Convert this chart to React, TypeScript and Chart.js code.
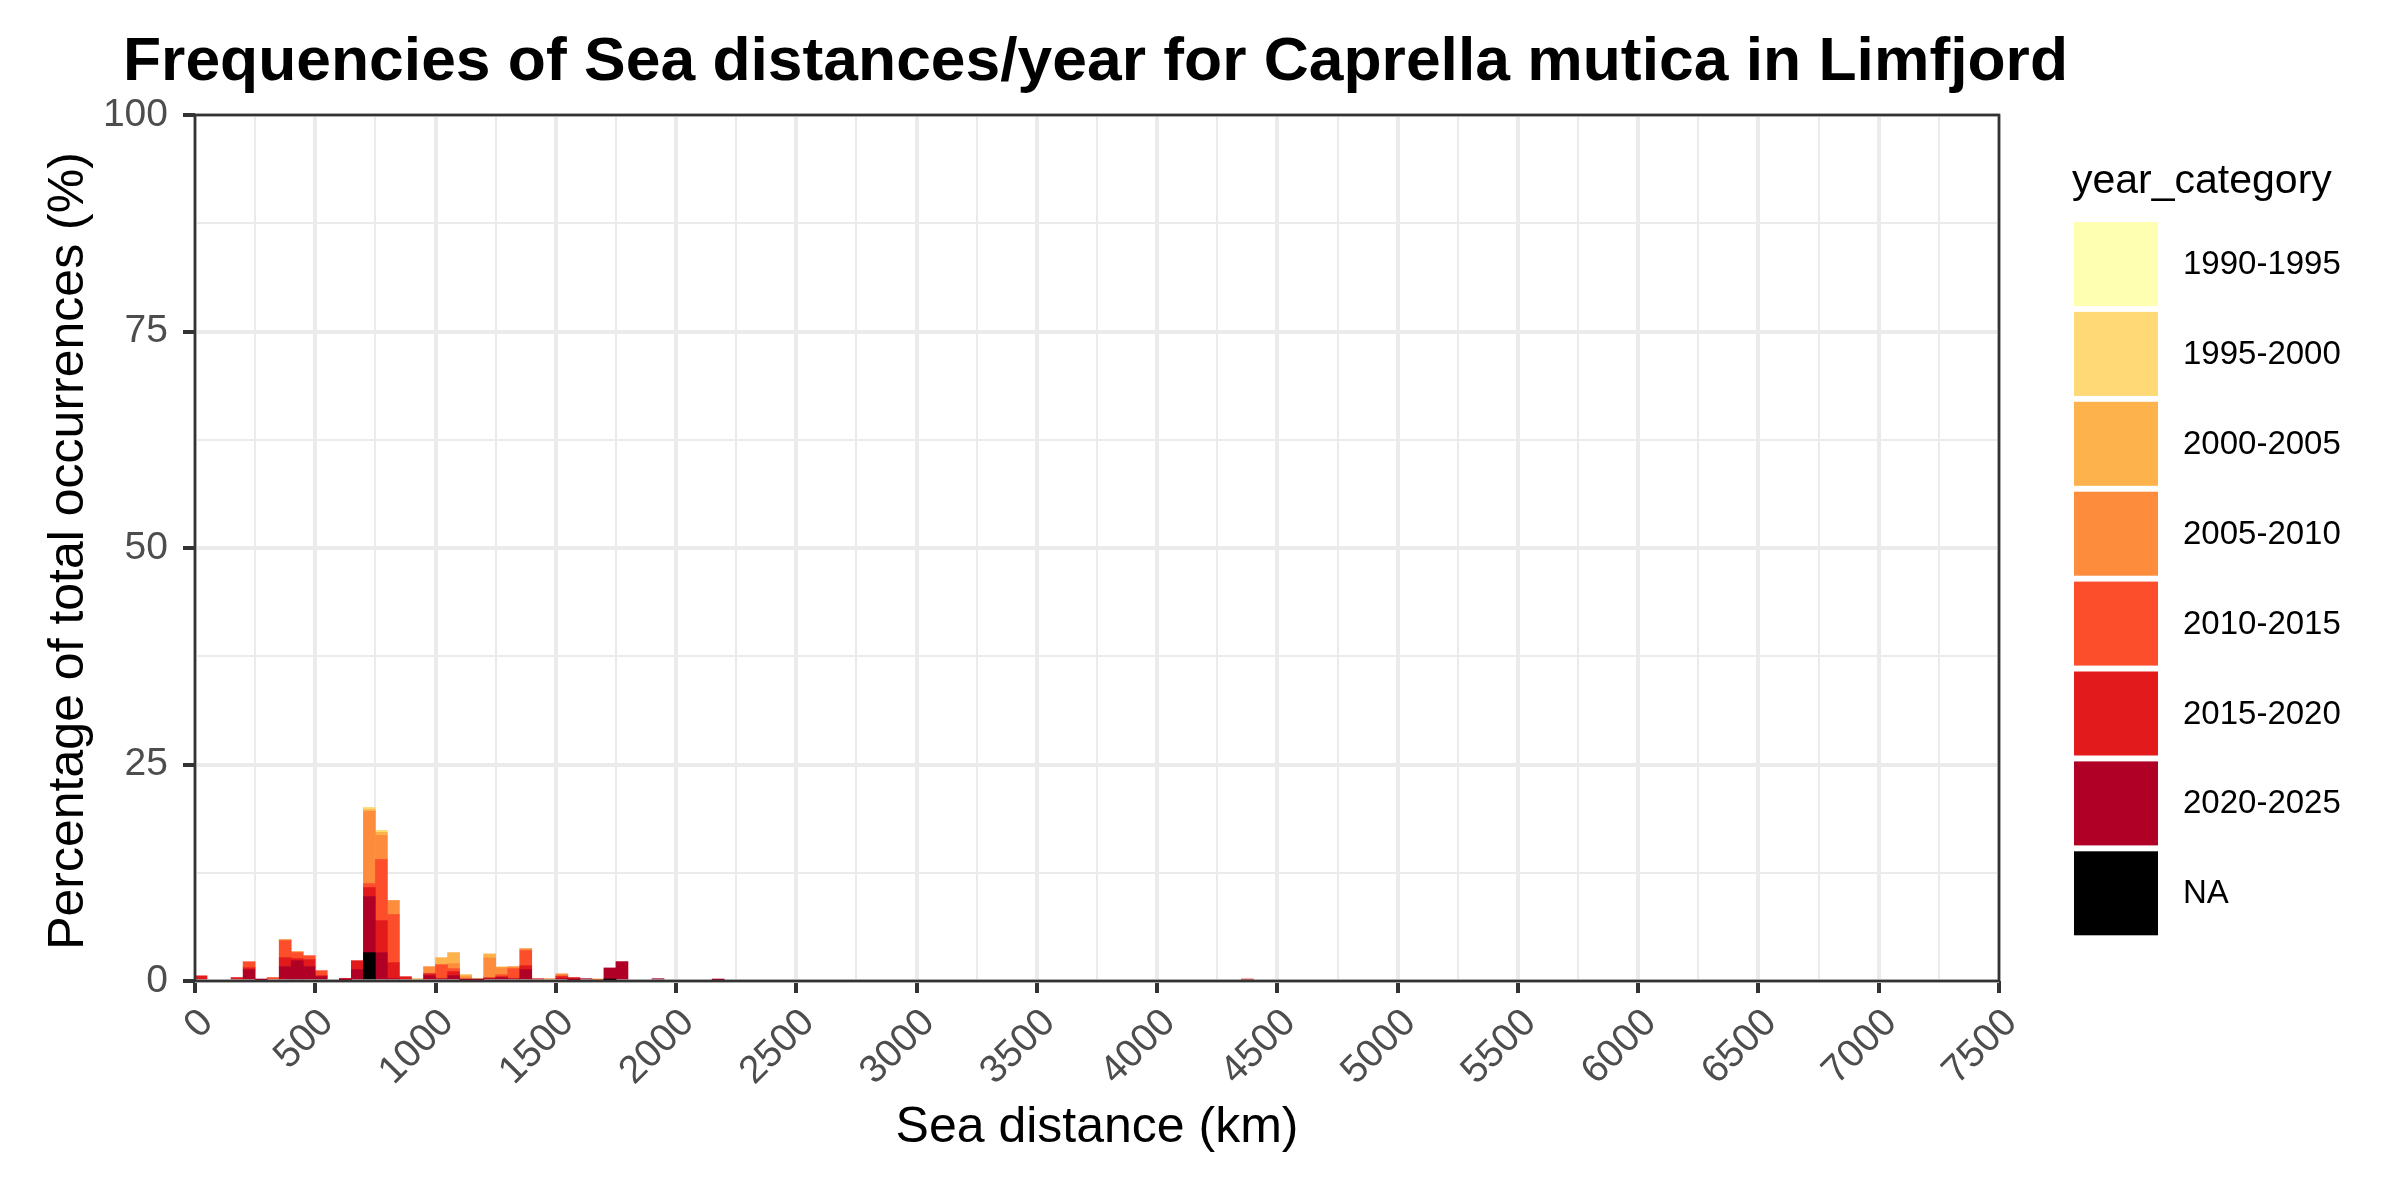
import React, { useEffect, useRef } from 'react';
import { Chart, registerables } from 'chart.js';

Chart.register(...registerables);

const TITLE = 'Frequencies of Sea distances/year for Caprella mutica in Limfjord';
const X_TITLE = 'Sea distance (km)';
const Y_TITLE = 'Percentage of total occurrences (%)';
const LEGEND_TITLE = 'year_category';

const FONT = '"Liberation Sans", Arial, Helvetica, sans-serif';

const BIN_WIDTH = 50;
const X_MIN = 0;
const X_MAX = 7500;
const X_STEP = 250;
const X_LABEL_STEP = 500;
const Y_MIN = 0;
const Y_MAX = 100;
const Y_STEP = 12.5;
const Y_LABEL_STEP = 25;

// left edge (km) of each non-empty histogram bin
const binStarts = [0, 150, 200, 250, 300, 350, 400, 450, 500, 600, 650, 700, 750, 800, 850, 900, 950, 1000, 1050, 1100, 1150, 1200, 1250, 1300, 1350, 1400, 1450, 1500, 1550, 1600, 1650, 1700, 1750, 1900, 2150, 4350];

// percentage of total occurrences per bin and year category
const valuesNA = [0, 0, 0, 0, 0, 0, 0, 0, 0, 0, 0, 3.28, 0, 0, 0, 0, 0, 0, 0, 0, 0, 0, 0, 0, 0, 0, 0, 0, 0, 0, 0, 0.08, 0, 0, 0, 0];
const values2020 = [0, 0, 1.3, 0.1, 0, 1.66, 2.35, 1.66, 0.5, 0.05, 1.31, 6.48, 3.28, 0.27, 0, 0, 0.62, 0.27, 0.62, 0.15, 0.1, 0.27, 0.4, 0.27, 1.31, 0, 0, 0.27, 0.15, 0.27, 0, 1.43, 2.24, 0.27, 0.05, 0];
const values2015 = [0.6, 0.4, 0.23, 0, 0, 1.04, 0.23, 0.81, 0.12, 0.25, 1.04, 1.04, 3.7, 1.85, 0.5, 0, 0.23, 0, 0.46, 0, 0, 0.1, 0.1, 0, 0.46, 0.27, 0, 0.23, 0.25, 0, 0, 0, 0, 0, 0, 0.2];
const values2010 = [0, 0, 0.7, 0, 0.4, 1.97, 0.7, 0.46, 0.58, 0, 0, 0.46, 7.06, 5.56, 0, 0, 0, 1.62, 0.35, 0, 0, 0, 0.23, 1.16, 1.74, 0, 0, 0.1, 0, 0, 0, 0, 0, 0, 0, 0];
const values2005 = [0, 0, 0, 0, 0, 0.12, 0.12, 0, 0, 0, 0, 8.33, 2.78, 1.62, 0, 0, 0.81, 0, 0.58, 0.35, 0, 2.3, 0.8, 0.23, 0.23, 0, 0.27, 0.23, 0, 0, 0.15, 0, 0, 0, 0, 0];
const values2000 = [0, 0, 0, 0, 0, 0, 0, 0, 0, 0, 0, 0.2, 0.35, 0, 0, 0.27, 0, 0.81, 1.27, 0.23, 0.17, 0.46, 0.1, 0, 0, 0, 0, 0, 0, 0, 0, 0, 0, 0, 0, 0];
const values1995 = [0, 0, 0, 0, 0, 0, 0, 0, 0, 0, 0, 0.25, 0.23, 0, 0, 0, 0, 0, 0, 0, 0, 0, 0, 0, 0, 0, 0, 0, 0, 0, 0, 0, 0, 0, 0, 0];
const values1990 = [0, 0, 0, 0, 0, 0, 0, 0, 0, 0, 0, 0, 0, 0, 0, 0, 0, 0, 0, 0, 0, 0, 0, 0, 0, 0, 0, 0, 0, 0, 0, 0, 0, 0, 0, 0];

// stacking order: first is bottom of the stack
const seriesNames = ['NA', '2020-2025', '2015-2020', '2010-2015', '2005-2010', '2000-2005', '1995-2000', '1990-1995'];
const seriesColors = ['#000000', '#B10026', '#E31A1C', '#FC4E2A', '#FD8D3C', '#FEB24C', '#FED976', '#FFFFB2'];
const seriesValues = [valuesNA, values2020, values2015, values2010, values2005, values2000, values1995, values1990];

const isMultiple = (v: number, step: number) => Math.abs(v / step - Math.round(v / step)) < 1e-9;

const decorPlugin = {
  id: 'decor',
  afterDatasetsDraw(chart: any) {
    const { ctx, chartArea: a } = chart;
    ctx.save();
    ctx.strokeStyle = '#333333';
    ctx.lineWidth = 2.7;
    ctx.strokeRect(a.left, a.top, a.right - a.left, a.bottom - a.top);
    ctx.restore();
  },
  afterDraw(chart: any) {
    const { ctx, chartArea: a } = chart;
    ctx.save();
    // main title
    ctx.fillStyle = '#000000';
    ctx.font = `bold 62px ${FONT}`;
    ctx.textAlign = 'left';
    ctx.textBaseline = 'alphabetic';
    const w = ctx.measureText(TITLE).width;
    const sx = 1945 / w;
    ctx.save();
    ctx.translate(123, 80);
    ctx.scale(sx, 1);
    ctx.fillText(TITLE, 0, 0);
    ctx.restore();

    // x axis title
    ctx.font = `50px ${FONT}`;
    ctx.textAlign = 'center';
    ctx.fillText(X_TITLE, (a.left + a.right) / 2, 1142);

    // y axis title
    ctx.save();
    ctx.translate(83, 551);
    ctx.rotate(-Math.PI / 2);
    ctx.fillText(Y_TITLE, 0, 0);
    ctx.restore();

    // legend
    ctx.textAlign = 'left';
    ctx.font = `41px ${FONT}`;
    ctx.fillText(LEGEND_TITLE, 2072, 193);
    const order = seriesNames.map((_, i) => seriesNames.length - 1 - i);
    ctx.font = `33px ${FONT}`;
    ctx.textBaseline = 'middle';
    order.forEach((si, row) => {
      const top = 222 + row * 89.9;
      ctx.fillStyle = seriesColors[si];
      ctx.fillRect(2074, top, 84, 84);
      ctx.fillStyle = '#000000';
      ctx.fillText(seriesNames[si], 2183, top + 43);
    });
    ctx.restore();
  },
};

export default function App() {
  const canvasRef = useRef<HTMLCanvasElement | null>(null);

  useEffect(() => {
    const canvas = canvasRef.current;
    if (!canvas) return;
    const datasets = seriesNames.map((name, si) => ({
      label: name,
      backgroundColor: seriesColors[si],
      borderWidth: 0,
      barPercentage: 1,
      categoryPercentage: 1,
      data: binStarts
        .map((start, bi) => ({ x: start + BIN_WIDTH / 2, y: seriesValues[si][bi] }))
        .filter((p) => p.y > 0),
    }));

    const gridColor = '#EBEBEB';
    const chart = new Chart(canvas, {
      type: 'bar',
      data: { datasets },
      plugins: [decorPlugin],
      options: {
        animation: false,
        responsive: false,
        devicePixelRatio: 1,
        layout: { padding: { left: 0, right: 401, top: 115, bottom: 0 } },
        plugins: {
          legend: { display: false },
          title: { display: false },
          tooltip: { enabled: false },
        },
        scales: {
          x: {
            type: 'linear',
            min: X_MIN,
            max: X_MAX,
            stacked: true,
            offset: false,
            border: { display: false },
            grid: {
              offset: false,
              color: gridColor,
              lineWidth: (c: any) => (c.tick && isMultiple(c.tick.value, X_LABEL_STEP) ? 4 : 2),
              drawTicks: true,
              tickLength: 12,
              tickWidth: 4,
              tickColor: (c: any) => (c.tick && isMultiple(c.tick.value, X_LABEL_STEP) ? '#333333' : 'rgba(0,0,0,0)'),
            },
            ticks: {
              stepSize: X_STEP,
              maxTicksLimit: 1000,
              autoSkip: false,
              minRotation: 45,
              maxRotation: 45,
              padding: 7,
              labelOffset: 12,
              color: '#4D4D4D',
              font: { family: FONT, size: 39 },
              callback: (v: any) => (isMultiple(Number(v), X_LABEL_STEP) ? String(v) : ''),
            },
            afterFit: (s: any) => {
              s.height = 219;
            },
          },
          y: {
            type: 'linear',
            min: Y_MIN,
            max: Y_MAX,
            stacked: true,
            border: { display: false },
            grid: {
              color: gridColor,
              lineWidth: (c: any) => (c.tick && isMultiple(c.tick.value, Y_LABEL_STEP) ? 4 : 2),
              drawTicks: true,
              tickLength: 12,
              tickWidth: 4,
              tickColor: (c: any) => (c.tick && isMultiple(c.tick.value, Y_LABEL_STEP) ? '#333333' : 'rgba(0,0,0,0)'),
            },
            ticks: {
              stepSize: Y_STEP,
              maxTicksLimit: 1000,
              autoSkip: false,
              padding: 15,
              color: '#4D4D4D',
              font: { family: FONT, size: 39 },
              callback: (v: any) => (isMultiple(Number(v), Y_LABEL_STEP) ? String(v) : ''),
            },
            afterFit: (s: any) => {
              s.width = 195;
            },
          },
        },
      } as any,
    });
    return () => chart.destroy();
  }, []);

  return (
    <div style={{ position: 'fixed', left: 0, top: 0, width: 2400, height: 1200, background: '#ffffff' }}>
      <canvas ref={canvasRef} width={2400} height={1200} style={{ display: 'block', width: 2400, height: 1200 }} />
    </div>
  );
}
